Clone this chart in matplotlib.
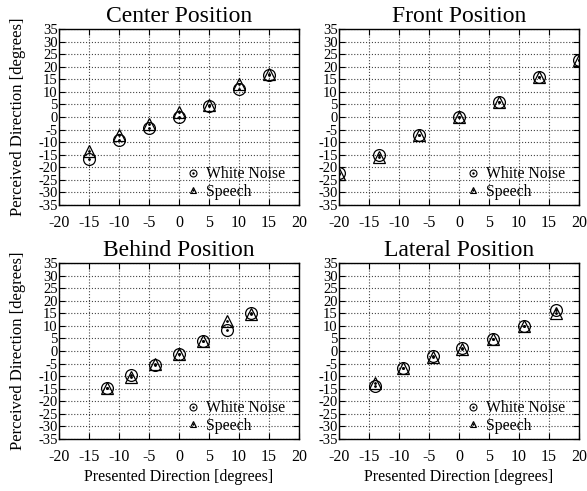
import matplotlib
matplotlib.use("Agg")
import matplotlib.pyplot as plt
from matplotlib.lines import Line2D
from matplotlib.legend_handler import HandlerTuple

plt.rcParams['font.family'] = ['Liberation Serif', 'DejaVu Serif']

# presented / perceived directions per panel
titles = ["Center Position", "Front Position", "Behind Position", "Lateral Position"]

center_x = [-15, -10, -5, 0, 5, 10, 15]
center_noise = [-16.8, -9.2, -4.2, 0.0, 4.4, 11.3, 16.7]
center_speech = [-13.4, -7.2, -2.8, 2.1, 4.8, 13.0, 17.0]

front_x = [-20, -13.3, -6.7, 0, 6.7, 13.3, 20]
front_noise = [-22.4, -15.1, -7.3, 0.0, 5.8, 15.9, 22.5]
front_speech = [-22.5, -16.0, -7.3, 0.0, 5.8, 15.9, 22.5]

behind_x = [-12, -8, -4, 0, 4, 8, 12]
behind_noise = [-14.7, -9.7, -5.6, -1.1, 3.8, 8.5, 15.2]
behind_speech = [-14.7, -10.3, -5.0, -1.0, 3.8, 11.8, 14.6]

lateral_x = [-14.0, -9.3, -4.4, 0.5, 5.6, 10.8, 16.1]
lateral_noise = [-14.0, -6.6, -1.9, 1.3, 4.9, 10.0, 16.4]
lateral_speech = [-12.7, -6.6, -2.4, 0.7, 4.6, 9.8, 15.2]

panels = [
    (center_x, center_noise, center_speech),
    (front_x, front_noise, front_speech),
    (behind_x, behind_noise, behind_speech),
    (lateral_x, lateral_noise, lateral_speech),
]

x_ticks = list(range(-20, 21, 5))
y_ticks = list(range(-35, 36, 5))

fig = plt.figure(figsize=(5.87, 4.91), dpi=100)
W, H = 587.0, 491.0
lefts = [59, 339]
tops = [29, 263]
aw, ah = 240, 176

# small legend symbols (circle / triangle with centre dot)
leg_c = Line2D([], [], ls='none', marker='o', mfc='none', mec='black', ms=5, mew=0.8)
leg_t = Line2D([], [], ls='none', marker='^', mfc='none', mec='black', ms=5, mew=0.8)
leg_d = Line2D([], [], ls='none', marker='.', color='black', ms=1.5)

for i, (x, noise, speech) in enumerate(panels):
    col = i % 2
    row = i // 2
    ax = fig.add_axes([lefts[col] / W, 1 - (tops[row] + ah) / H, aw / W, ah / H])
    ax.set_xlim(-20, 20)
    ax.set_ylim(-35, 35)
    ax.set_xticks(x_ticks)
    ax.set_yticks(y_ticks)
    ax.set_xticklabels([str(t) for t in x_ticks], fontsize=11.5)
    ax.set_yticklabels([str(t) for t in y_ticks], fontsize=10.5)
    ax.tick_params(direction='in', top=True, right=True, length=4, width=0.8)
    ax.tick_params(axis='y', pad=1)
    ax.tick_params(axis='x', pad=7)
    ax.grid(True, linestyle=':', color='#444444', linewidth=0.8)
    for s in ax.spines.values():
        s.set_linewidth(1.0)

    ax.plot(x, noise, 'o', mfc='none', mec='black', ms=8.5, mew=0.9, zorder=3)
    ax.plot(x, speech, '^', mfc='none', mec='black', ms=8, mew=0.9, zorder=3)
    ax.plot(x, noise, '.', color='black', ms=2, zorder=4)
    ax.plot(x, speech, '.', color='black', ms=2, zorder=4)

    ax.legend([(leg_c, leg_d), (leg_t, leg_d)], ["White Noise", "Speech"],
              handler_map={tuple: HandlerTuple(ndivide=1)},
              loc='lower right', bbox_to_anchor=(0.975, -0.015), frameon=False,
              fontsize=11.3, handlelength=0.8, handletextpad=0.4,
              labelspacing=0.1, borderaxespad=0.1)

    ax.set_title(titles[i], fontsize=17, pad=5)
    if col == 0:
        ax.set_ylabel("Perceived Direction [degrees]", fontsize=12, labelpad=9)
    if row == 1:
        ax.set_xlabel("Presented Direction [degrees]", fontsize=11.5, labelpad=3)

fig.savefig("out.png", dpi=100)
